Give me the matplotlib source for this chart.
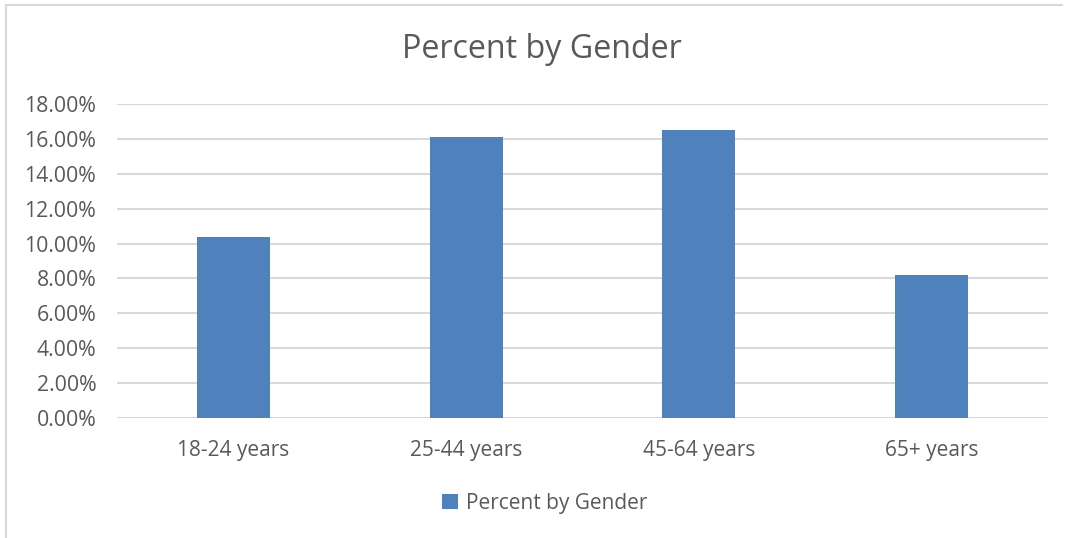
import matplotlib
matplotlib.use("Agg")
import matplotlib.pyplot as plt
from matplotlib.ticker import FuncFormatter, MultipleLocator
from matplotlib.lines import Line2D

categories = ["18-24 years", "25-44 years", "45-64 years", "65+ years"]
values = [10.4, 16.1, 16.5, 8.2]
series_name = "Percent by Gender"

plt.rcParams['font.family'] = ['Open Sans', 'DejaVu Sans']
txt = '#595959'

fig = plt.figure(figsize=(10.68, 5.38), dpi=100)
W, H = 1068, 538
ax = fig.add_axes([117 / W, 1 - 418 / H, (1048 - 117) / W, (418 - 104) / H])

x = list(range(len(categories)))
ax.bar(x, values, width=0.313, color='#4f81bd', label=series_name, zorder=3)
ax.set_xlim(-0.5, len(categories) - 0.5)
ax.set_ylim(0, 18)
ax.yaxis.set_major_locator(MultipleLocator(2))
ax.yaxis.set_major_formatter(FuncFormatter(lambda v, p: f"{v:.2f}%"))
ax.set_xticks(x)
ax.set_xticklabels(categories)
ax.grid(axis='y', color='#d9d9d9', linewidth=1.5, zorder=0)
for s in ax.spines.values():
    s.set_visible(False)
ax.tick_params(axis='both', length=0, colors=txt)
ax.tick_params(axis='x', pad=15.5, labelsize=15)
ax.tick_params(axis='y', pad=15, labelsize=15.3)

fig.text(542 / W, 1 - 50 / H, series_name, ha='center', va='center', fontsize=23.2, color=txt)

leg = fig.legend(loc='center', bbox_to_anchor=(545 / W, 1 - 503 / H), frameon=False,
                 fontsize=15, handlelength=0.75, handleheight=0.75, handletextpad=0.4,
                 labelcolor=txt)

# figure border (left and top visible)
fig.add_artist(Line2D([6 / W, 6 / W], [0, 1 - 5 / H], color='#d9d9d9', linewidth=1.5, transform=fig.transFigure))
fig.add_artist(Line2D([6 / W, 1062 / W], [1 - 5 / H, 1 - 5 / H], color='#d9d9d9', linewidth=1.5, transform=fig.transFigure))

fig.savefig("out.png", dpi=100)
